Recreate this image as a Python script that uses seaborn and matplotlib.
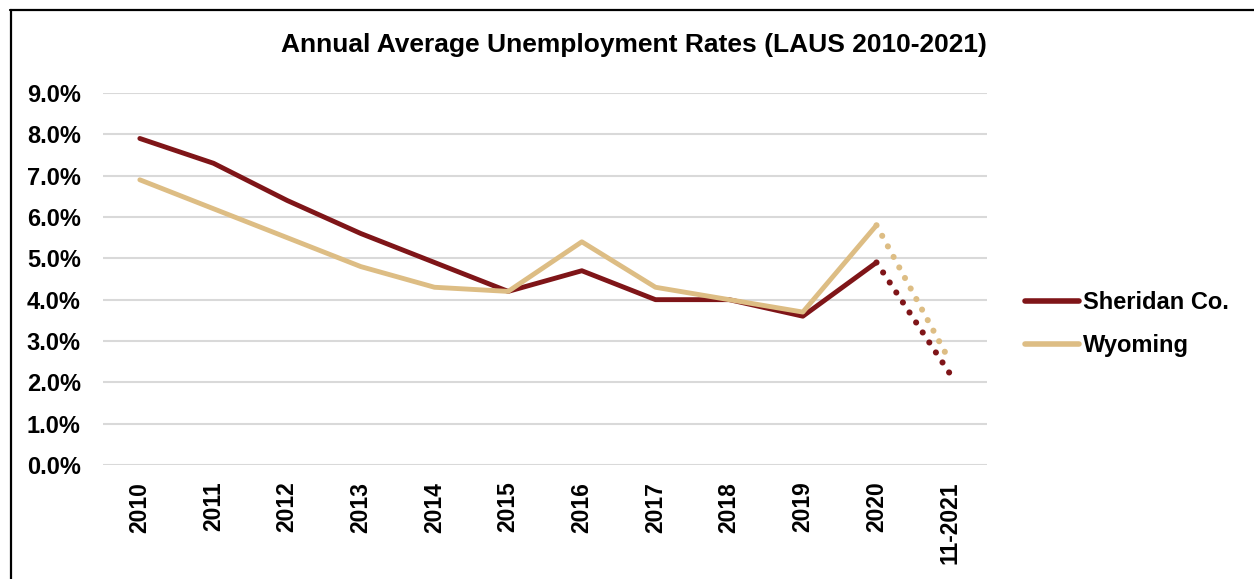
import pandas as pd
import numpy as np
import matplotlib.pyplot as plt
import seaborn as sns
from matplotlib.lines import Line2D

# data
years = ['2010', '2011', '2012', '2013', '2014', '2015', '2016', '2017', '2018', '2019', '2020', '11-2021']
sheridan = [7.9, 7.3, 6.4, 5.6, 4.9, 4.2, 4.7, 4.0, 4.0, 3.6, 4.9, 2.2]
wyoming = [6.9, 6.2, 5.5, 4.8, 4.3, 4.2, 5.4, 4.3, 4.0, 3.7, 5.8, 2.5]
series_names = ['Sheridan Co.', 'Wyoming']
colors = ['#7F1518', '#DDBD84']

sns.set_style('white')
plt.rcParams['font.family'] = ['Liberation Sans', 'DejaVu Sans']
plt.rcParams['font.weight'] = 'bold'
plt.rcParams['text.color'] = 'black'
plt.rcParams['xtick.color'] = 'black'
plt.rcParams['ytick.color'] = 'black'

# long-form table
df = pd.DataFrame({
    'x': list(range(len(years))) * 2,
    'rate': sheridan + wyoming,
    'series': [series_names[0]] * len(years) + [series_names[1]] * len(years),
})
solid = df[df['x'] <= 10]
dotted = df[df['x'] >= 10]
palette = dict(zip(series_names, colors))

fig = plt.figure(figsize=(12.54, 5.79), dpi=100)
ax = fig.add_axes([103 / 1254, 1 - 465 / 579, (987 - 103) / 1254, (465 - 93) / 579])

sns.lineplot(data=solid, x='x', y='rate', hue='series', palette=palette,
             linewidth=3.5, ax=ax, legend=False, solid_capstyle='round')
sns.lineplot(data=dotted, x='x', y='rate', hue='series', palette=palette,
             linewidth=4.4, ax=ax, legend=False)
for ln in ax.lines[2:]:
    ln.set_linestyle((0, (0.01, 1.95)))
    ln.set_dash_capstyle('round')

ax.set_xlim(-0.5, len(years) - 0.5)
ax.set_ylim(0, 9)
ax.set_yticks(np.arange(0, 9.5, 1))
ax.set_yticklabels([f'{v:.1f}%' for v in np.arange(0, 9.5, 1)], fontsize=17, fontweight='bold')
ax.set_xticks(range(len(years)))
ax.set_xticklabels(years, rotation=90, fontsize=16.5, fontweight='bold')
ax.tick_params(axis='y', length=0, pad=16)
ax.tick_params(axis='x', length=0, pad=12)
ax.set_xlabel('')
ax.set_ylabel('')
ax.grid(axis='y', color='#D9D9D9', linewidth=1.5)
ax.set_axisbelow(True)
sns.despine(ax=ax, left=True, bottom=True)

fig.text(634 / 1254, 1 - 45 / 579, 'Annual Average Unemployment Rates (LAUS 2010-2021)',
         ha='center', va='center', fontsize=19, fontweight='bold')

handles = [Line2D([0], [0], color=c, linewidth=4, solid_capstyle='round') for c in colors]
fig.legend(handles, series_names, loc='center left', bbox_to_anchor=(1025 / 1254, 1 - 324 / 579),
           frameon=False, prop={'size': 17, 'weight': 'bold'}, handlelength=2.3,
           handletextpad=0.15, labelspacing=0.85, borderpad=0, borderaxespad=0)

# outer frame (top and left edges visible)
fig.add_artist(Line2D([10 / 1254, 1], [1 - 9.5 / 579, 1 - 9.5 / 579], color='black', linewidth=1.6))
fig.add_artist(Line2D([10.5 / 1254, 10.5 / 1254], [0, 1 - 9.5 / 579], color='black', linewidth=1.6))

fig.savefig('out.png', dpi=100)
